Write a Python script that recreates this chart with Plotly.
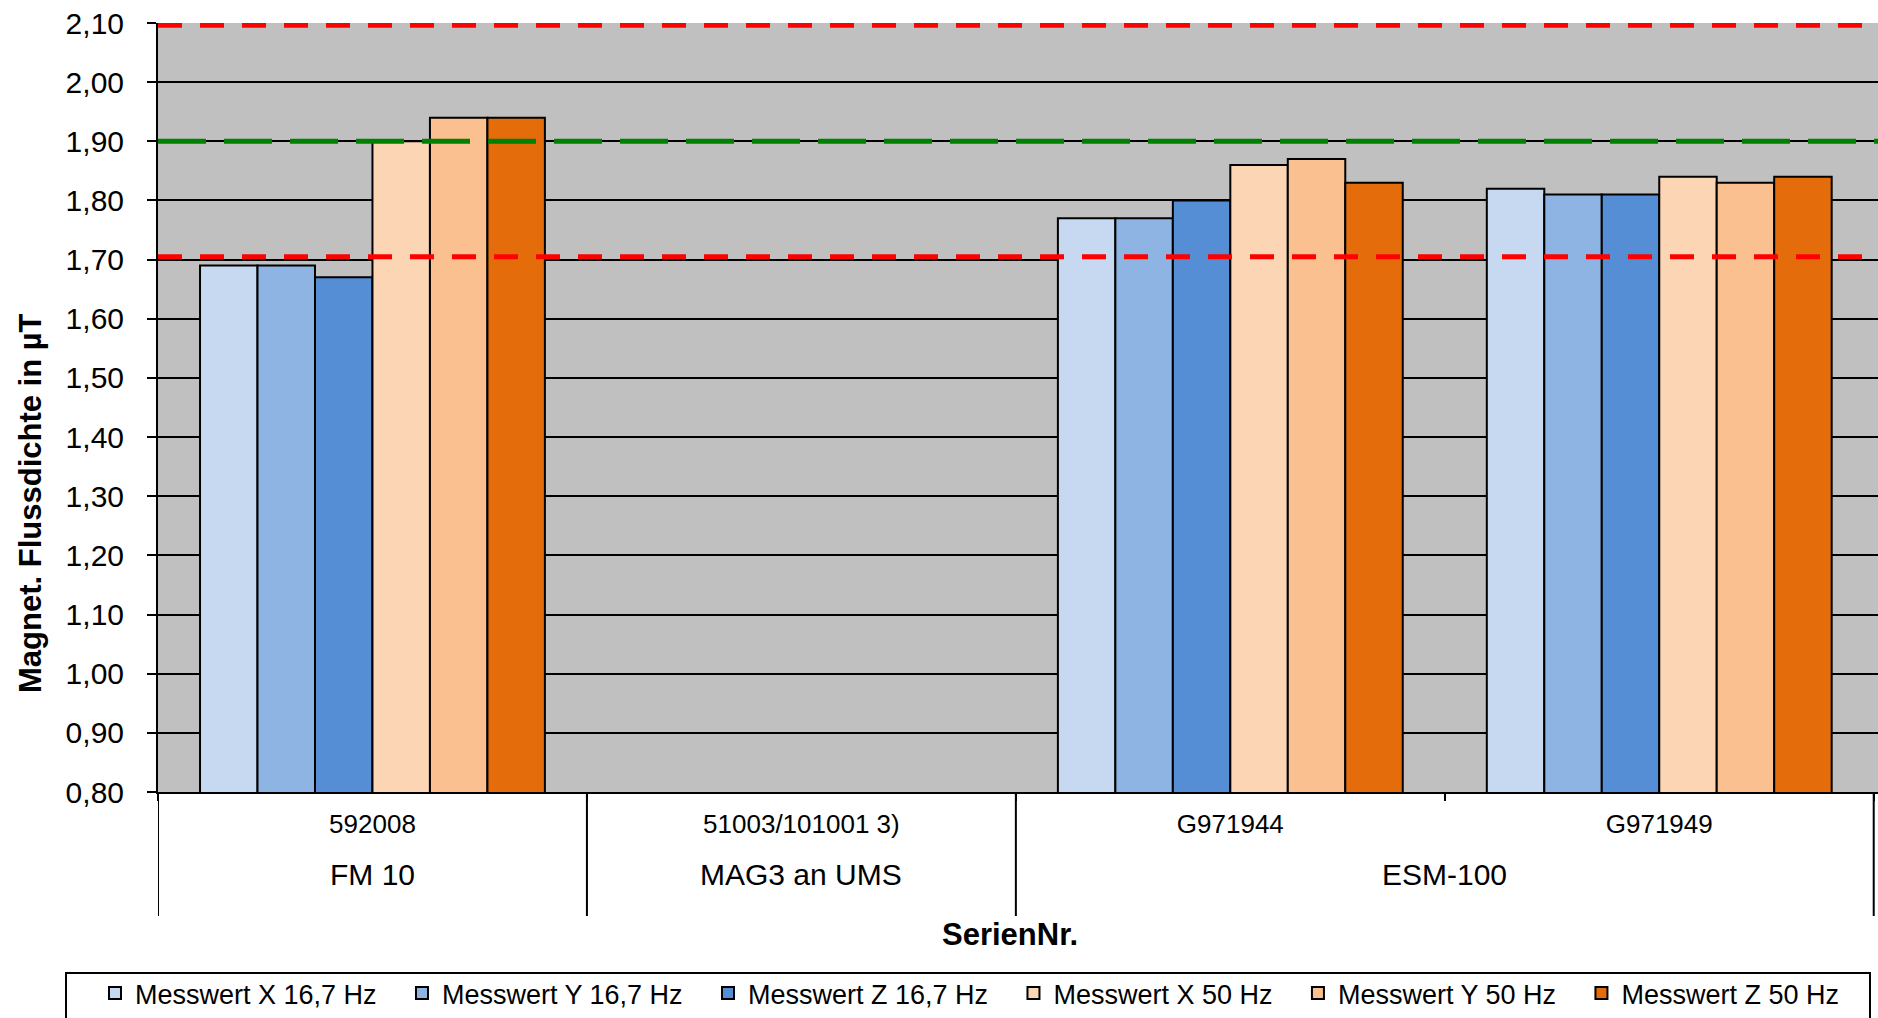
import plotly.graph_objects as go

# Categories: serial numbers (inner level) and the device model each belongs to
serial_numbers = ["592008", "51003/101001 3)", "G971944", "G971949"]
device_models = ["FM 10", "MAG3 an UMS", "ESM-100", "ESM-100"]

# Measured flux density in µT (no readings for the MAG3 unit)
series_names = [
    "Messwert X 16,7 Hz",
    "Messwert Y 16,7 Hz",
    "Messwert Z 16,7 Hz",
    "Messwert X 50 Hz",
    "Messwert Y 50 Hz",
    "Messwert Z 50 Hz",
]
messwert_x_16_7 = [1.69, None, 1.77, 1.82]
messwert_y_16_7 = [1.69, None, 1.77, 1.81]
messwert_z_16_7 = [1.67, None, 1.80, 1.81]
messwert_x_50 = [1.90, None, 1.86, 1.84]
messwert_y_50 = [1.94, None, 1.87, 1.83]
messwert_z_50 = [1.94, None, 1.83, 1.84]

# Reference level and tolerance limits
sollwert = 1.90
grenze_oben = 2.096
grenze_unten = 1.705

# Y axis ticks
y_ticks = [0.80, 0.90, 1.00, 1.10, 1.20, 1.30, 1.40, 1.50, 1.60, 1.70,
           1.80, 1.90, 2.00, 2.10]

series_values = [messwert_x_16_7, messwert_y_16_7, messwert_z_16_7,
                 messwert_x_50, messwert_y_50, messwert_z_50]
series_colors = ["#C6D9F1", "#8EB4E3", "#558ED5", "#FCD5B5", "#FAC090", "#E46C0A"]

W, H = 1878, 1018
M_L, M_R, M_T, M_B = 158, 0, 23, 226
PLOT_W = W - M_L - M_R
PLOT_H = H - M_T - M_B
FONT = "Liberation Sans, Arial, sans-serif"
# extra spacing between legend entries
LEGEND_PAD = "\u00a0\u00a0\u2009"


def px_x(px):
    """Pixel column -> paper x."""
    return (px - M_L) / PLOT_W


def px_y(py):
    """Pixel row -> paper y."""
    return (H - M_B - py) / PLOT_H


fig = go.Figure()
last = len(series_names) - 1
for i, (name, values, color) in enumerate(zip(series_names, series_values, series_colors)):
    fig.add_trace(go.Bar(
        x=serial_numbers,
        y=values,
        name=name + (LEGEND_PAD if i < last else ""),
        marker=dict(color=color, line=dict(color="black", width=2)),
    ))

# Horizontal reference lines across the plot
shapes = []
for level, color, dash in [(grenze_oben, "#FF0000", "24px,18px"),
                           (sollwert, "#008000", "48px,18px"),
                           (grenze_unten, "#FF0000", "24px,18px")]:
    shapes.append(dict(type="line", xref="paper", yref="y", x0=0, x1=1,
                       y0=level, y1=level, layer="above",
                       line=dict(color=color, width=5, dash=dash)))

# Group dividers below the category axis
n = len(serial_numbers)
boundaries = [-0.5]
for i in range(1, n):
    if device_models[i] != device_models[i - 1]:
        boundaries.append(i - 0.5)
boundaries.append(n - 0.5)
for b in boundaries:
    shapes.append(dict(type="line", xref="x", yref="paper", x0=b, x1=b,
                       y0=0, y1=px_y(916), line=dict(color="black", width=2)))

# Legend frame
shapes.append(dict(type="rect", xref="paper", yref="paper",
                   x0=px_x(66), x1=px_x(1870), y0=px_y(973), y1=px_y(1060),
                   line=dict(color="black", width=2), fillcolor="rgba(0,0,0,0)"))

annotations = []
# Model names centred under their serial numbers
seen = []
for m in device_models:
    if m not in seen:
        seen.append(m)
for m in seen:
    idx = [i for i, d in enumerate(device_models) if d == m]
    annotations.append(dict(text=m, x=sum(idx) / len(idx), xref="x",
                            y=px_y(874), yref="paper", showarrow=False,
                            font=dict(size=30, color="black", family=FONT),
                            xanchor="center", yanchor="middle"))

annotations.append(dict(text="<b>SerienNr.</b>", x=px_x(1010), y=px_y(934),
                        xref="paper", yref="paper", showarrow=False,
                        font=dict(size=31, color="black", family=FONT),
                        xanchor="center", yanchor="middle"))
annotations.append(dict(text="<b>Magnet. Flussdichte in µT</b>", x=px_x(30),
                        y=px_y(503), xref="paper", yref="paper", showarrow=False,
                        textangle=-90,
                        font=dict(size=31, color="black", family=FONT),
                        xanchor="center", yanchor="middle"))

fig.update_layout(
    width=W, height=H,
    margin=dict(l=M_L, r=M_R, t=M_T, b=M_B, pad=0, autoexpand=False),
    paper_bgcolor="white",
    plot_bgcolor="#C0C0C0",
    separators=",.",
    barmode="group",
    bargap=0.196,
    bargroupgap=0,
    font=dict(family=FONT, color="black"),
    showlegend=True,
    legend=dict(
        orientation="h",
        xref="paper", yref="paper",
        x=px_x(95), y=px_y(969),
        xanchor="left", yanchor="top",
        font=dict(size=27, color="black", family=FONT),
        bgcolor="rgba(0,0,0,0)",
        borderwidth=0,
        traceorder="normal",
        itemwidth=30,
    ),
    shapes=shapes,
    annotations=annotations,
)

fig.update_xaxes(
    type="category",
    range=[-0.5, n - 0.49],
    showline=True, linecolor="black", linewidth=2,
    ticks="outside", tickson="boundaries", ticklen=7, tickwidth=2, tickcolor="black",
    tickfont=dict(size=26, color="black", family=FONT),
    ticklabelstandoff=8,
    showgrid=False, zeroline=False,
)
fig.update_yaxes(
    range=[0.8, 2.1],
    tickvals=y_ticks,
    tickformat=".2f",
    showline=True, linecolor="black", linewidth=2,
    ticks="outside", ticklen=9, tickwidth=2, tickcolor="black",
    tickfont=dict(size=30, color="black", family=FONT),
    ticklabelstandoff=17,
    showgrid=True, gridcolor="black", gridwidth=2,
    zeroline=False,
)

fig.write_html("out.html")
